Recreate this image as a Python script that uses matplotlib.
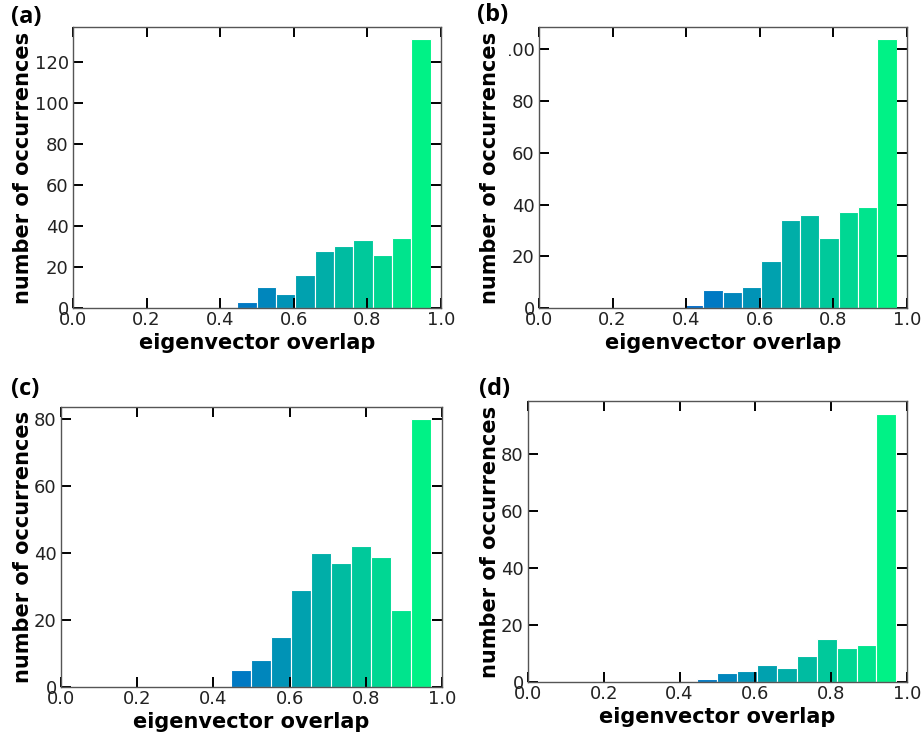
import numpy as np
import matplotlib
matplotlib.use('Agg')
import matplotlib.pyplot as plt
from matplotlib.transforms import Bbox

# shared histogram bins for the eigenvector overlap
bin_edges = np.linspace(0.394, 0.972, 12)

counts_a = [0, 3, 10, 7, 16, 28, 30, 33, 26, 34, 131]
counts_b = [1, 7, 6, 8, 18, 34, 36, 27, 37, 39, 104]
counts_c = [0, 5, 8, 15, 29, 40, 37, 42, 39, 23, 80]
counts_d = [0, 1, 3, 4, 6, 5, 9, 15, 12, 13, 94]

panel_labels = ['(a)', '(b)', '(c)', '(d)']
y_ticks = [[0, 20, 40, 60, 80, 100, 120],
           [0, 20, 40, 60, 80, 100],
           [0, 20, 40, 60, 80],
           [0, 20, 40, 60, 80]]
y_tops = [137, 108.7, 83.7, 98.5]
x_ticks = [0.0, 0.2, 0.4, 0.6, 0.8, 1.0]

W, H = 924, 738
# axes boxes in pixels: left, right, top, bottom
boxes = [(73, 441, 27, 308),
         (539, 907, 27, 308),
         (61, 442, 407, 687),
         (528, 907, 401, 682)]
label_pos = [(11, 17), (477, 15), (11, 389), (479, 389)]

fig = plt.figure(figsize=(W / 100, H / 100), dpi=100)

all_counts = [counts_a, counts_b, counts_c, counts_d]
centers = 0.5 * (bin_edges[:-1] + bin_edges[1:])
widths = np.diff(bin_edges)
colors = plt.cm.winter(centers)

for i, counts in enumerate(all_counts):
    l, r, t, b = boxes[i]
    ax = fig.add_axes([l / W, 1 - b / H, (r - l) / W, (b - t) / H])
    counts = np.array(counts)
    keep = counts > 0
    ax.bar(bin_edges[:-1][keep], counts[keep], width=widths[keep], align='edge',
           color=colors[keep], edgecolor='white', linewidth=0.8)
    ax.set_xlim(0, 1.0)
    ax.set_ylim(0, y_tops[i])
    ax.set_xticks(x_ticks)
    ax.set_xticklabels(['%.1f' % v for v in x_ticks])
    ax.set_yticks(y_ticks[i])
    ax.tick_params(direction='in', length=7, width=1.4, color='black',
                   top=True, right=True, labelsize=13, labelcolor='#222222')
    ax.tick_params(axis='x', pad=2)
    ax.tick_params(axis='y', pad=3)
    for sp in ax.spines.values():
        sp.set_color('#555555')
        sp.set_linewidth(1.0)
    ax.set_xlabel('eigenvector overlap', fontsize=15, fontweight='bold', labelpad=3)
    ax.set_ylabel('number of occurrences', fontsize=15, fontweight='bold', labelpad=1)
    fig.text(label_pos[i][0] / W, 1 - label_pos[i][1] / H, panel_labels[i],
             fontsize=17, fontweight='bold', family='Open Sans', va='center', ha='left')
    if i == 1:
        # the leading digit of the top y label sits under the neighbouring label strip
        clip = Bbox.from_extents(509, 0, W, H)
        for tick in ax.yaxis.get_major_ticks():
            tick.label1.set_clip_box(clip)
            tick.label1.set_clip_on(True)

fig.savefig('out.png', dpi=100)
